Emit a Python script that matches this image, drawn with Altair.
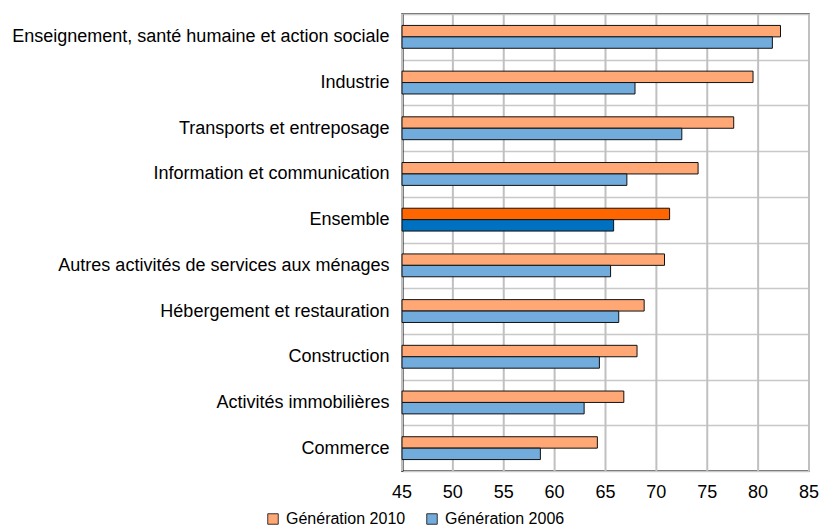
import altair as alt
import pandas as pd

categories = [
    "Enseignement, santé humaine et action sociale",
    "Industrie",
    "Transports et entreposage",
    "Information et communication",
    "Ensemble",
    "Autres activités de services aux ménages",
    "Hébergement et restauration",
    "Construction",
    "Activités immobilières",
    "Commerce",
]
gen2010 = [82.2, 79.5, 77.6, 74.1, 71.3, 70.8, 68.8, 68.1, 66.8, 64.2]
gen2006 = [81.4, 67.9, 72.5, 67.1, 65.8, 65.5, 66.3, 64.4, 62.9, 58.6]
series = ["Génération 2010", "Génération 2006"]
x_ticks = [45, 50, 55, 60, 65, 70, 75, 80, 85]

rows = []
for c, a, b in zip(categories, gen2010, gen2006):
    for s, v in zip(series, (a, b)):
        if c == "Ensemble":
            key = "Ensemble " + s[-4:]
        else:
            key = s
        rows.append({"secteur": c, "serie": s, "valeur": v, "couleur": key})
df = pd.DataFrame(rows)
grid_df = pd.DataFrame({"graduation": x_ticks})

color_domain = ["Génération 2010", "Génération 2006", "Ensemble 2010", "Ensemble 2006"]
color_range = ["#FFA875", "#72ACDD", "#FF6600", "#0070C0"]

x_scale = alt.Scale(domain=[45, 85], zero=False, nice=False)

grid = alt.Chart(grid_df).mark_rule(color="#C0C0C0", strokeWidth=2).encode(
    x=alt.X("graduation:Q", scale=x_scale, axis=None),
    y=alt.value(0),
    y2=alt.value(457),
)

tick_labels = alt.Chart(grid_df).mark_text(
    fontSize=18, color="black", baseline="middle", align="center"
).encode(
    x=alt.X("graduation:Q", scale=x_scale, axis=None),
    y=alt.value(479),
    text=alt.Text("graduation:Q"),
)

bars = alt.Chart(df).mark_bar(stroke="#111111", strokeWidth=1).encode(
    y=alt.Y(
        "secteur:N",
        sort=categories,
        scale=alt.Scale(paddingInner=0, paddingOuter=0),
        axis=alt.Axis(
            title=None,
            labelFontSize=18,
            labelColor="black",
            labelPadding=13,
            labelLimit=500,
            ticks=False,
            domain=True,
            domainColor="black",
            domainWidth=2,
            grid=True,
            gridColor="#C8C8C8",
            gridWidth=1.5,
            tickBand="extent",
        ),
    ),
    yOffset=alt.YOffset(
        "serie:N", sort=series, scale=alt.Scale(paddingInner=0, paddingOuter=1)
    ),
    x=alt.X("valeur:Q", scale=x_scale, axis=None),
    x2=alt.datum(45),
    color=alt.Color(
        "couleur:N",
        scale=alt.Scale(domain=color_domain, range=color_range),
        legend=alt.Legend(
            title=None,
            values=series,
            orient="none",
            legendX=-137,
            legendY=497,
            direction="horizontal",
            columns=2,
            labelFontSize=16,
            labelColor="black",
            symbolType="square",
            symbolSize=110,
            symbolStrokeColor="#333333",
            symbolStrokeWidth=1,
            labelOffset=5,
            columnPadding=18,
            padding=0,
        ),
    ),
)

chart = alt.layer(grid, bars, tick_labels).properties(
    width=407,
    height=457,
    autosize=alt.AutoSizeParams(type="none"),
    padding={"left": 402, "top": 14, "right": 10, "bottom": 56},
).configure(
    font="Liberation Sans"
).configure_view(
    stroke="#333333", strokeWidth=1.5
)

chart.save("out.html", embed_options={"renderer": "svg", "actions": False})
